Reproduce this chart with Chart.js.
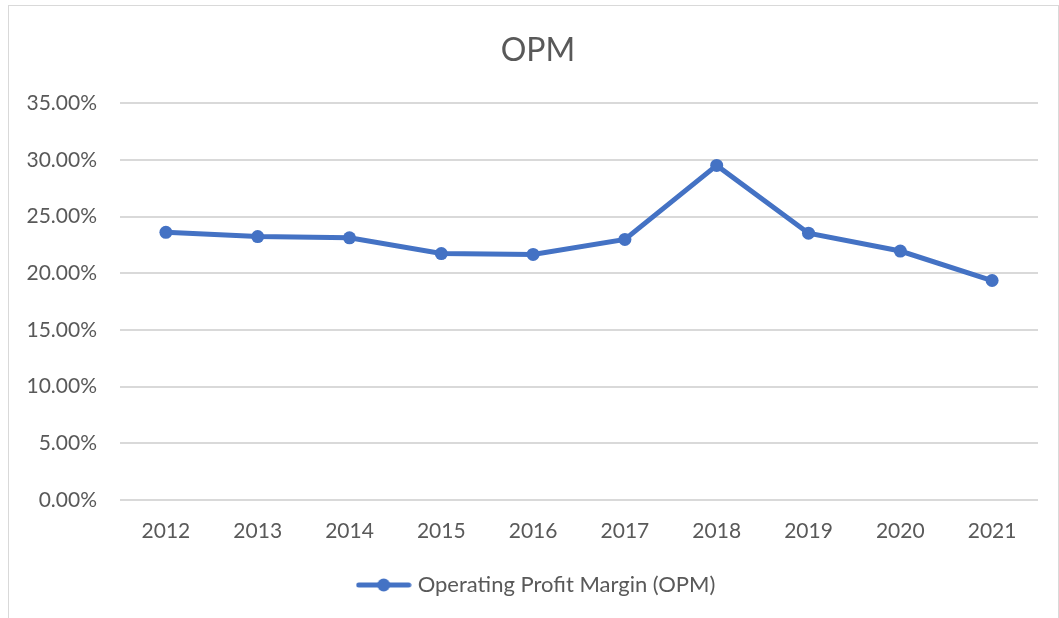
<!DOCTYPE html>
<html>
<head>
<meta charset="utf-8">
<script src="https://cdn.jsdelivr.net/npm/chart.js@4"></script>
<style>
  body { margin: 0; background: #fff; }
  #frame {
    position: absolute; left: 8px; top: 5px; width: 1049px; height: 640px;
    border: 1px solid #d9d9d9;
  }
  #opm_chart { position: absolute; left: 0; top: 0; }
</style>
</head>
<body>
<div id="frame"></div>
<canvas id="opm_chart" width="1059" height="618"></canvas>
<script>
var years = ['2012', '2013', '2014', '2015', '2016', '2017', '2018', '2019', '2020', '2021'];
var opm_values = [23.62, 23.25, 23.14, 21.75, 21.67, 23.0, 29.53, 23.55, 21.97, 19.37];
var y_ticks = [0, 5, 10, 15, 20, 25, 30, 35];
var series_label = 'Operating Profit Margin (OPM)';

var blue = '#4472C4';
var grey_text = '#595959';

// legend marker: short thick line with a dot in the middle
function make_legend_marker()
{
    var c = document.createElement('canvas');
    c.width = 56;
    c.height = 14;
    var g = c.getContext('2d');
    g.strokeStyle = blue;
    g.lineWidth = 5;
    g.lineCap = 'round';
    g.beginPath();
    g.moveTo(3, 7);
    g.lineTo(53, 7);
    g.stroke();
    g.fillStyle = blue;
    g.beginPath();
    g.arc(28, 7, 6.5, 0, Math.PI * 2);
    g.fill();
    return c;
}
var marker = make_legend_marker();

var ctx = document.getElementById('opm_chart').getContext('2d');
var chart = new Chart(ctx, {
    type: 'line',
    data: {
        labels: years,
        datasets: [
            {
                label: series_label,
                data: opm_values,
                borderColor: blue,
                backgroundColor: blue,
                borderWidth: 5,
                pointRadius: 6.5,
                pointHoverRadius: 6.5,
                pointBackgroundColor: blue,
                pointBorderWidth: 0,
                tension: 0
            }
        ]
    },
    options: {
        responsive: false,
        animation: false,
        devicePixelRatio: 1,
        layout: { padding: { left: 17, right: 0, top: 0, bottom: 12 } },
        plugins: {
            tooltip: { enabled: false },
            title: {
                display: true,
                text: 'OPM',
                color: grey_text,
                font: { family: 'Lato', size: 32, weight: 'normal' },
                padding: { top: 31, bottom: 34 }
            },
            legend: {
                position: 'bottom',
                labels: {
                    color: grey_text,
                    font: { family: 'Lato', size: 22 },
                    usePointStyle: true,
                    pointStyleWidth: 46,
                    padding: 10,
                    generateLabels: function(ch) {
                        return [{
                            text: series_label,
                            pointStyle: marker,
                            fillStyle: blue,
                            strokeStyle: blue,
                            lineWidth: 0,
                            hidden: false,
                            datasetIndex: 0,
                            fontColor: grey_text
                        }];
                    }
                }
            }
        },
        scales: {
            x: {
                offset: true,
                grid: { display: false, drawTicks: false },
                border: { display: false },
                ticks: {
                    color: grey_text,
                    padding: 19,
                    maxRotation: 0,
                    autoSkip: false,
                    font: { family: 'Lato', size: 21 }
                },
                afterFit: function(axis) { axis.height = 64; }
            },
            y: {
                min: 0,
                max: 35,
                afterBuildTicks: function(axis) {
                    axis.ticks = y_ticks.map(function(v) { return { value: v }; });
                },
                grid: { color: '#d9d9d9', lineWidth: 2, drawTicks: false },
                border: { display: false },
                ticks: {
                    color: grey_text,
                    padding: 23,
                    font: { family: 'Lato', size: 21 },
                    callback: function(v) { return v.toFixed(2) + '%'; }
                },
                afterFit: function(axis) { axis.width = 103; }
            },
            // empty right-hand axis, only keeps a margin right of the plot
            spacer: {
                type: 'linear',
                axis: 'y',
                position: 'right',
                grid: { display: false, drawTicks: false },
                border: { display: false },
                ticks: { display: false },
                afterFit: function(axis) { axis.width = 21; }
            }
        }
    }
});
</script>
</body>
</html>
